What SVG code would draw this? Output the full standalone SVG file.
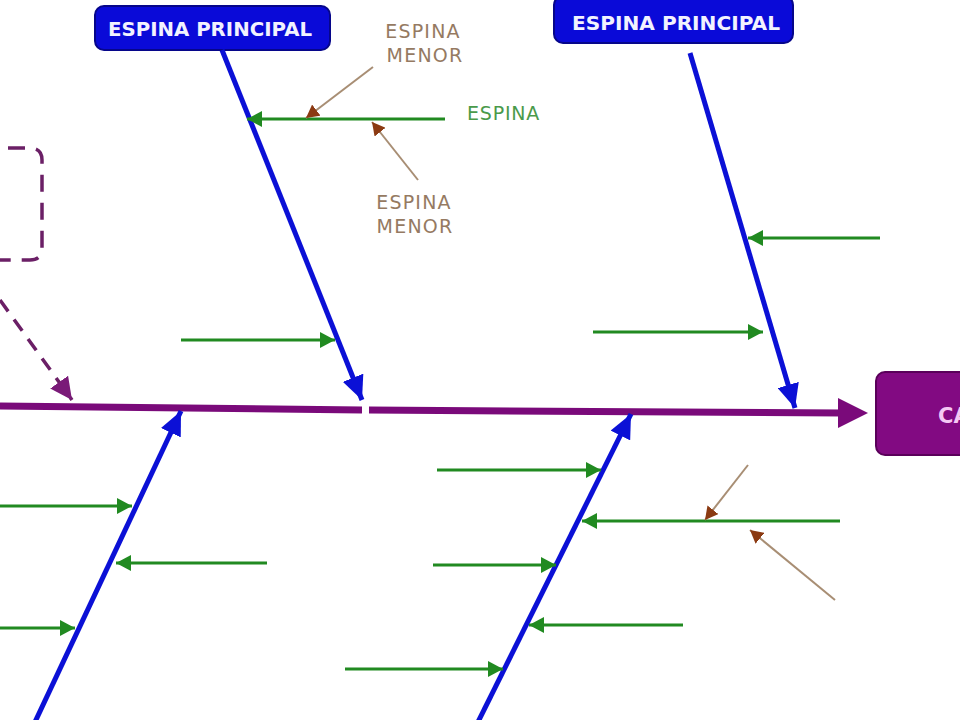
<svg xmlns="http://www.w3.org/2000/svg" width="960" height="720" viewBox="0 0 960 720">
<style>
.box{fill:#0a0ad8;stroke:#06068a;stroke-width:2}
.boxt{font-family:"DejaVu Sans",Verdana,sans-serif;font-weight:bold;font-size:19px;fill:#f2f2ff}
.blue{stroke:#0b10d6;stroke-width:5;fill:none}
.green{stroke:#218a21;stroke-width:3;fill:none}
.brown{stroke:#a88e74;stroke-width:2;fill:none}
.menor{font-family:"DejaVu Sans",Verdana,sans-serif;font-size:19px;fill:#957a62;letter-spacing:1.2px}
.esp{font-family:"DejaVu Sans",Verdana,sans-serif;font-size:19px;fill:#4a9a4a;letter-spacing:0.8px}
</style>
<defs>
<marker id="hb" markerUnits="userSpaceOnUse" markerWidth="26" markerHeight="22" refX="24" refY="11" orient="auto"><path d="M0,0 L24,11 L0,22 z" fill="#0b10d6"/></marker>
<marker id="hg" markerUnits="userSpaceOnUse" markerWidth="16" markerHeight="16" refX="15" refY="8" orient="auto"><path d="M0,0 L15,8 L0,16 z" fill="#218a21"/></marker>
<marker id="hr" markerUnits="userSpaceOnUse" markerWidth="14" markerHeight="14" refX="13" refY="7" orient="auto"><path d="M0,0 L13,7 L0,14 z" fill="#8b3a12"/></marker>
<marker id="hp" markerUnits="userSpaceOnUse" markerWidth="24" markerHeight="22" refX="22" refY="11" orient="auto"><path d="M0,0 L22,11 L0,22 z" fill="#7a1a78"/></marker>
</defs>
<rect width="960" height="720" fill="#ffffff"/>

<g id="efecto">
<rect x="876" y="372" width="120" height="83" rx="9" fill="#820a82" stroke="#5a005a" stroke-width="2"/>
<text x="938" y="423" font-family="DejaVu Sans,sans-serif" font-weight="bold" font-size="21" fill="#f4c8f4">CA</text>
</g>

<g id="nota">
<path d="M-20,148 H30 Q42,148 42,160 V248 Q42,260 30,260 H-20" fill="none" stroke="#6b1f66" stroke-width="3.5" stroke-dasharray="17,11"/>
</g>

<g id="espina-principal-1">
<rect class="box" x="95" y="6" width="235" height="44" rx="9"/>
<text class="boxt" x="108" y="36" textLength="204" lengthAdjust="spacingAndGlyphs">ESPINA PRINCIPAL</text>
</g>

<g id="espina-principal-2">
<rect class="box" x="554" y="-4" width="239" height="47" rx="9"/>
<text class="boxt" x="572" y="30" textLength="208" lengthAdjust="spacingAndGlyphs">ESPINA PRINCIPAL</text>
</g>

<g id="labels">
<text class="menor" x="423" y="38" text-anchor="middle">ESPINA</text>
<text class="menor" x="425" y="62" text-anchor="middle">MENOR</text>
<text class="esp" x="467" y="120">ESPINA</text>
<text class="menor" x="414" y="209" text-anchor="middle">ESPINA</text>
<text class="menor" x="415" y="233" text-anchor="middle">MENOR</text>
</g>

<g id="connectors">
<line x1="0" y1="406" x2="362" y2="410" stroke="#7a0a7a" stroke-width="7"/>
<line x1="369" y1="410" x2="842" y2="413" stroke="#7a0a7a" stroke-width="7"/>
<polygon points="838,398 868,413 838,428" fill="#7a0a7a"/>
<line x1="0" y1="300" x2="72" y2="400" stroke="#6b1f66" stroke-width="3.5" stroke-dasharray="14,10" marker-end="url(#hp)"/>
<line class="blue" x1="222" y1="50" x2="362" y2="400" marker-end="url(#hb)"/>
<line class="blue" x1="690" y1="53" x2="795" y2="408" marker-end="url(#hb)"/>
<line class="blue" x1="35" y1="722" x2="181" y2="411" marker-end="url(#hb)"/>
<line class="blue" x1="478" y1="722" x2="631" y2="414" marker-end="url(#hb)"/>
<line class="green" x1="445" y1="119" x2="247" y2="119" marker-end="url(#hg)"/>
<line class="green" x1="181" y1="340" x2="335" y2="340" marker-end="url(#hg)"/>
<line class="green" x1="880" y1="238" x2="748" y2="238" marker-end="url(#hg)"/>
<line class="green" x1="593" y1="332" x2="763" y2="332" marker-end="url(#hg)"/>
<line class="green" x1="0" y1="506" x2="132" y2="506" marker-end="url(#hg)"/>
<line class="green" x1="267" y1="563" x2="116" y2="563" marker-end="url(#hg)"/>
<line class="green" x1="0" y1="628" x2="75" y2="628" marker-end="url(#hg)"/>
<line class="green" x1="437" y1="470" x2="601" y2="470" marker-end="url(#hg)"/>
<line class="green" x1="840" y1="521" x2="582" y2="521" marker-end="url(#hg)"/>
<line class="green" x1="433" y1="565" x2="556" y2="565" marker-end="url(#hg)"/>
<line class="green" x1="683" y1="625" x2="529" y2="625" marker-end="url(#hg)"/>
<line class="green" x1="345" y1="669" x2="503" y2="669" marker-end="url(#hg)"/>
<line class="brown" x1="373" y1="67" x2="306" y2="118" marker-end="url(#hr)"/>
<line class="brown" x1="418" y1="180" x2="372" y2="122" marker-end="url(#hr)"/>
<line class="brown" x1="748" y1="465" x2="705" y2="520" marker-end="url(#hr)"/>
<line class="brown" x1="835" y1="600" x2="750" y2="530" marker-end="url(#hr)"/>
</g>
</svg>
